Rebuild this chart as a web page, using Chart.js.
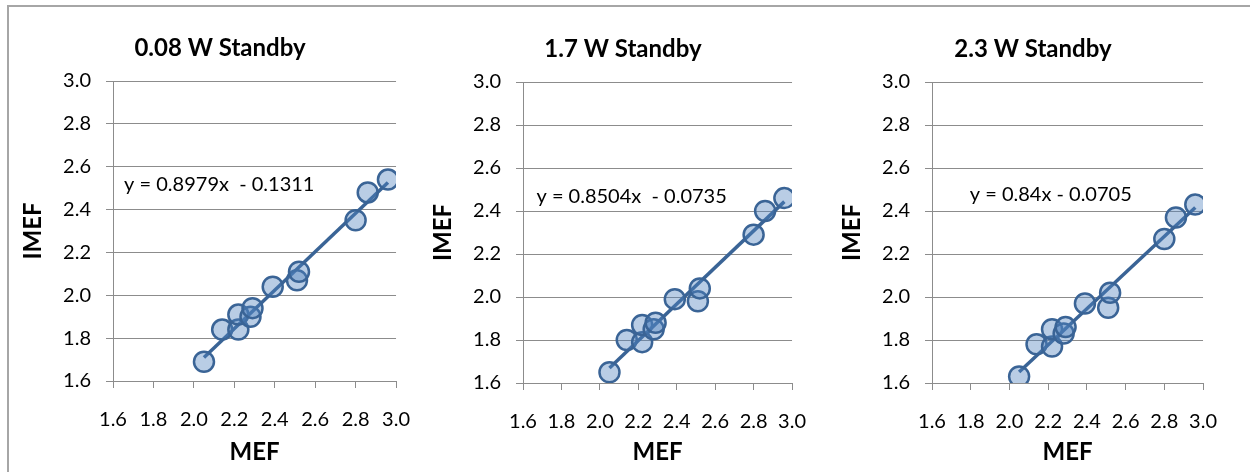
<!DOCTYPE html>
<html>
<head>
  <script src="https://cdn.jsdelivr.net/npm/chart.js"></script>
  <title>MEF vs IMEF</title>
  <style>
    body { margin: 0; background: #fff; overflow: hidden; width: 1250px; height: 472px; position: relative; }
    .frame { position: absolute; left: 7px; top: 5px; width: 1300px; height: 520px; border-left: 2px solid #a6a6a6; border-top: 2px solid #a6a6a6; }
    canvas { position: absolute; }
  </style>
</head>
<body>
  <div class="frame"></div>
  <canvas id="c0"></canvas>
  <canvas id="c1"></canvas>
  <canvas id="c2"></canvas>

  <script>
    // data
    let titles = ['0.08 W Standby', '1.7 W Standby', '2.3 W Standby'];
    let mef = [2.05, 2.14, 2.22, 2.22, 2.28, 2.29, 2.39, 2.51, 2.52, 2.80, 2.86, 2.96];
    let imef008 = [1.69, 1.84, 1.84, 1.91, 1.90, 1.94, 2.04, 2.07, 2.11, 2.35, 2.48, 2.54];
    let imef17 = [1.65, 1.80, 1.79, 1.87, 1.85, 1.88, 1.99, 1.98, 2.04, 2.29, 2.40, 2.46];
    let imef23 = [1.63, 1.78, 1.77, 1.85, 1.83, 1.86, 1.97, 1.95, 2.02, 2.27, 2.37, 2.43];
    let slopes = [0.8979, 0.8504, 0.84];
    let intercepts = [-0.1311, -0.0735, -0.0705];
    let equations = ['y = 0.8979x  - 0.1311', 'y = 0.8504x  - 0.0735', 'y = 0.84x - 0.0705'];
    let axisTicks = { min: 1.6, max: 3.0, step: 0.2 };

    // layout of the three panels (page pixels)
    let boxes = [
      { left: 10,  top: 8, width: 420, height: 464, yW: 103, rW: 33, xH: 91, eq: [1.655, 2.515] },
      { left: 420, top: 9, width: 406, height: 463, yW: 103, rW: 20, xH: 89, eq: [1.67, 2.465] },
      { left: 829, top: 9, width: 408, height: 463, yW: 103, rW: 22, xH: 89, eq: [1.795, 2.475] }
    ];

    Chart.defaults.font.family = 'Lato, "Liberation Sans", sans-serif';
    Chart.defaults.color = '#000';

    const gridGray = '#8c8c8c';
    const markerEdge = '#3a6496';
    const markerFill = 'rgba(79, 129, 189, 0.4)';

    // trendline equation text
    const eqLabel = {
      id: 'eqLabel',
      afterDatasetsDraw(chart, args, opts) {
        let ctx = chart.ctx;
        ctx.save();
        ctx.font = '20px ' + Chart.defaults.font.family;
        ctx.fillStyle = '#000';
        ctx.textBaseline = 'middle';
        ctx.fillText(opts.text, chart.scales.x.getPixelForValue(opts.x), chart.scales.y.getPixelForValue(opts.y));
        ctx.restore();
      }
    };

    function drawPanel(i, imef) {
      let b = boxes[i];
      let canvas = document.getElementById('c' + i);
      canvas.width = b.width;
      canvas.height = b.height;
      canvas.style.left = b.left + 'px';
      canvas.style.top = b.top + 'px';

      let lo = Math.min(...mef), hi = Math.max(...mef);
      let trend = [
        { x: lo, y: slopes[i] * lo + intercepts[i] },
        { x: hi, y: slopes[i] * hi + intercepts[i] }
      ];

      new Chart(canvas, {
        type: 'scatter',
        data: {
          datasets: [
            {
              data: mef.map((m, k) => ({ x: m, y: imef[k] })),
              pointRadius: 10,
              pointBorderWidth: 2.5,
              pointBackgroundColor: markerFill,
              pointBorderColor: markerEdge
            },
            {
              type: 'line',
              data: trend,
              borderColor: markerEdge,
              borderWidth: 3.5,
              pointRadius: 0,
              fill: false
            }
          ]
        },
        options: {
          responsive: false,
          animation: false,
          layout: { padding: 0 },
          plugins: {
            legend: { display: false },
            tooltip: { enabled: false },
            title: {
              display: true,
              text: titles[i],
              font: { size: 24, weight: 'bold' },
              color: '#000',
              padding: { top: 26, bottom: 18.2 }
            },
            eqLabel: { text: equations[i], x: b.eq[0], y: b.eq[1] }
          },
          scales: {
            x: {
              type: 'linear',
              min: axisTicks.min,
              max: axisTicks.max,
              afterFit: s => { s.height = b.xH; },
              ticks: {
                stepSize: axisTicks.step,
                autoSkip: false,
                maxRotation: 0,
                padding: 20,
                font: { size: 20 },
                callback: v => v.toFixed(1)
              },
              grid: { drawOnChartArea: false, drawTicks: true, tickLength: 7, color: gridGray },
              border: { display: true, color: gridGray, width: 1 },
              title: { display: true, text: 'MEF', font: { size: 24, weight: 'bold' }, padding: { top: 0, bottom: 5 } }
            },
            y: {
              min: axisTicks.min,
              max: axisTicks.max,
              afterFit: s => { s.width = b.yW; },
              ticks: {
                stepSize: axisTicks.step,
                padding: 15,
                font: { size: 20 },
                callback: v => v.toFixed(1)
              },
              grid: { color: gridGray, tickLength: 7 },
              border: { display: true, color: gridGray, width: 1 },
              title: { display: true, text: 'IMEF', font: { size: 24, weight: 'bold' }, padding: { top: 9, bottom: 0 } }
            },
            yr: {
              position: 'right',
              grid: { display: false },
              border: { display: false },
              ticks: { display: false },
              afterFit: s => { s.width = b.rW; }
            }
          }
        },
        plugins: [eqLabel]
      });
    }

    drawPanel(0, imef008);
    drawPanel(1, imef17);
    drawPanel(2, imef23);
  </script>
</body>
</html>
